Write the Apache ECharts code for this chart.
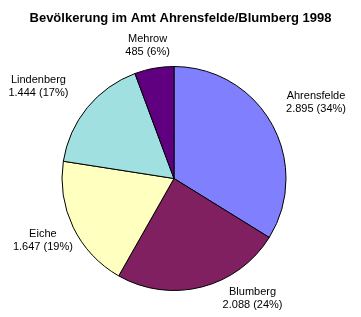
<!DOCTYPE html>
<html>
<head>
<meta charset="utf-8">
<script src="https://cdn.jsdelivr.net/npm/echarts@6/dist/echarts.min.js"></script>
<style>
html,body{margin:0;padding:0;background:#fff;}
#chart{width:361px;height:317px;}
</style>
</head>
<body>
<div id="chart"></div>
<script>
const titleText = 'Bevölkerung im Amt Ahrensfelde/Blumberg 1998';
const categories = ['Ahrensfelde', 'Blumberg', 'Eiche', 'Lindenberg', 'Mehrow'];
const values = [2895, 2088, 1647, 1444, 485];
const colors = ['#8080FF', '#802060', '#FFFFC0', '#A0E0E0', '#600080'];

// label placement (radial distance from centre, angle adjustment in degrees)
const labelDist = [161, 143, 145, 164, 136];
const labelShift = [1, -19, 0.5, -5, -1];

const CX = 174, CY = 178.5, R = 112;

function fmt(n) {
  return String(n).replace(/\B(?=(\d{3})+(?!\d))/g, '.');
}

const total = values.reduce((a, b) => a + b, 0);
const midAngles = [];
let acc = 0;
values.forEach(v => { midAngles.push((acc + v / 2) / total * 360); acc += v; });

const chart = echarts.init(document.getElementById('chart'), null, {renderer: 'canvas'});
chart.setOption({
  animation: false,
  backgroundColor: '#fff',
  title: {
    text: titleText,
    left: 'center',
    top: 7,
    textStyle: {fontFamily: 'Arial, Liberation Sans', fontSize: 13, fontWeight: 'bold', color: '#000'}
  },
  series: [{
    type: 'pie',
    center: [CX, CY],
    radius: R,
    startAngle: 90,
    clockwise: true,
    data: categories.map((c, i) => ({name: c, value: values[i], itemStyle: {color: colors[i]}})),
    itemStyle: {borderColor: '#000', borderWidth: 1},
    emphasis: {disabled: true},
    label: {
      show: true,
      position: 'outside',
      overflow: 'none',
      fontFamily: 'Arial, Liberation Sans',
      fontSize: 11,
      lineHeight: 13,
      color: '#000',
      formatter: p => p.name + '\n' + fmt(p.value) + ' (' + Math.round(p.percent) + '%)'
    },
    labelLine: {show: false},
    labelLayout: function (params) {
      const i = params.dataIndex;
      const a = (midAngles[i] + labelShift[i]) * Math.PI / 180;
      return {
        x: CX + labelDist[i] * Math.sin(a),
        y: CY - labelDist[i] * Math.cos(a),
        width: 120,
        align: 'center',
        verticalAlign: 'middle'
      };
    }
  }]
});
</script>
</body>
</html>
